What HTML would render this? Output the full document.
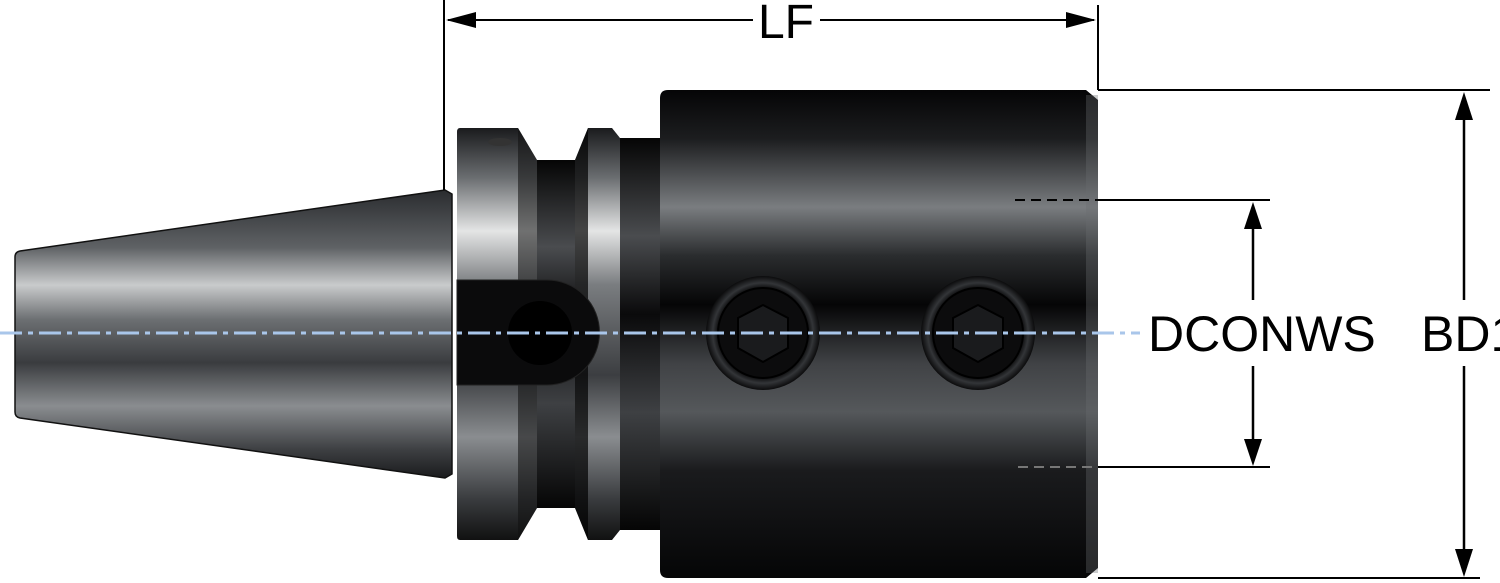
<!DOCTYPE html>
<html><head><meta charset="utf-8"><style>
html,body{margin:0;padding:0;background:#fff;}
svg{display:block;}
text{font-family:"Liberation Sans",sans-serif;fill:#000;}
</style></head><body>
<svg width="1500" height="583" viewBox="0 0 1500 583" xmlns="http://www.w3.org/2000/svg">
<defs>
<linearGradient id="taper" x1="0" y1="0" x2="0" y2="1">
<stop offset="0" stop-color="#2a2c2f"/>
<stop offset="0.2" stop-color="#5f6265"/>
<stop offset="0.33" stop-color="#c9cbcc"/>
<stop offset="0.45" stop-color="#6c6f72"/>
<stop offset="0.6" stop-color="#3a3c3f"/>
<stop offset="0.75" stop-color="#8a8d90"/>
<stop offset="0.9" stop-color="#3e4043"/>
<stop offset="1" stop-color="#1a1b1d"/>
</linearGradient>
<linearGradient id="flange" x1="0" y1="0" x2="0" y2="1">
<stop offset="0" stop-color="#1a1b1d"/>
<stop offset="0.12" stop-color="#6a6d70"/>
<stop offset="0.25" stop-color="#e4e5e5"/>
<stop offset="0.38" stop-color="#7a7d80"/>
<stop offset="0.6" stop-color="#3c3e41"/>
<stop offset="0.75" stop-color="#8a8d90"/>
<stop offset="0.9" stop-color="#3a3c3f"/>
<stop offset="1" stop-color="#111"/>
</linearGradient>
<linearGradient id="dark" x1="0" y1="0" x2="0" y2="1">
<stop offset="0" stop-color="#050505"/>
<stop offset="0.25" stop-color="#4a4c4f"/>
<stop offset="0.45" stop-color="#0a0a0b"/>
<stop offset="0.7" stop-color="#3e4043"/>
<stop offset="1" stop-color="#050505"/>
</linearGradient>
<linearGradient id="body" x1="0" y1="0" x2="0" y2="1">
<stop offset="0" stop-color="#050506"/>
<stop offset="0.1" stop-color="#1c1d1f"/>
<stop offset="0.24" stop-color="#7a7d80"/>
<stop offset="0.34" stop-color="#2a2c2e"/>
<stop offset="0.44" stop-color="#050506"/>
<stop offset="0.56" stop-color="#404245"/>
<stop offset="0.66" stop-color="#55585b"/>
<stop offset="0.78" stop-color="#1a1b1d"/>
<stop offset="1" stop-color="#050506"/>
</linearGradient>
<radialGradient id="ring" cx="0.5" cy="0.5" r="0.5">
<stop offset="0.78" stop-color="#0a0a0b"/>
<stop offset="0.88" stop-color="#333538"/>
<stop offset="1" stop-color="#0b0b0c"/>
</radialGradient>
</defs>

<!-- taper -->
<path d="M20 251 L445 190 L452 194 L452 474 L445 478 L20 418 Q15 417 15 412 L15 257 Q15 252 20 251 Z" fill="url(#taper)" stroke="#111" stroke-width="1.5"/>

<!-- flange 1 -->
<path d="M460 128 L518 128 L537 160 L537 508 L518 540 L460 540 Q457 540 457 536 L457 132 Q457 128 460 128Z" fill="url(#flange)"/>
<path d="M518 128 L537 160 L537 508 L518 540Z" fill="#111" opacity="0.55"/>
<!-- groove -->
<rect x="537" y="160" width="38" height="348" fill="url(#dark)"/>
<!-- flange 2 -->
<path d="M575 160 L588 128 L612 128 L620 138 L620 530 L612 540 L588 540 L575 508Z" fill="url(#flange)"/>
<path d="M575 160 L588 128 L588 540 L575 508Z" fill="#000" opacity="0.7"/>
<rect x="620" y="138" width="40" height="392" fill="url(#dark)"/>
<!-- key slot -->
<path d="M457 280 L547 280 A52 52 0 0 1 547 385 L457 385 Z" fill="#0b0b0c" stroke="#222" stroke-width="1"/>
<circle cx="540" cy="333" r="32" fill="#000"/>
<ellipse cx="500" cy="142" rx="12" ry="4" fill="#333"/>

<!-- body -->
<path d="M668 90 L1086 90 L1098 100 L1098 568 L1086 578 L668 578 Q660 578 660 570 L660 98 Q660 90 668 90Z" fill="url(#body)"/>
<rect x="1086" y="95" width="12" height="478" fill="#6a6d70" opacity="0.35"/>

<!-- screws -->
<g>
<circle cx="763" cy="333" r="57" fill="url(#ring)"/>
<circle cx="763" cy="333" r="45" fill="#0c0c0d" stroke="#000" stroke-width="2"/>
<polygon points="763,305 788,318 788,348 763,362 738,348 738,318" fill="#1a1b1d" stroke="#000" stroke-width="2"/>
<circle cx="978" cy="333" r="57" fill="url(#ring)"/>
<circle cx="978" cy="333" r="45" fill="#0c0c0d" stroke="#000" stroke-width="2"/>
<polygon points="978,305 1003,318 1003,348 978,362 953,348 953,318" fill="#1a1b1d" stroke="#000" stroke-width="2"/>
</g>

<!-- centerline -->
<line x1="0" y1="333" x2="1140" y2="333" stroke="#a9c6ea" stroke-width="3" stroke-dasharray="22,6,5,6"/>

<!-- LF dimension -->
<line x1="444" y1="0" x2="444" y2="190" stroke="#000" stroke-width="2"/>
<line x1="1098" y1="5" x2="1098" y2="90" stroke="#000" stroke-width="2"/>
<line x1="448" y1="20" x2="753" y2="20" stroke="#000" stroke-width="2"/>
<line x1="820" y1="20" x2="1094" y2="20" stroke="#000" stroke-width="2"/>
<polygon points="446,20 476,12 476,28" fill="#000"/>
<polygon points="1096,20 1066,12 1066,28" fill="#000"/>
<text x="786" y="38" font-size="48" text-anchor="middle">LF</text>

<!-- BD1 -->
<line x1="1098" y1="90" x2="1490" y2="90" stroke="#000" stroke-width="2"/>
<line x1="1098" y1="578" x2="1480" y2="578" stroke="#000" stroke-width="2"/>
<line x1="1464" y1="110" x2="1464" y2="300" stroke="#000" stroke-width="2.5"/>
<line x1="1464" y1="366" x2="1464" y2="560" stroke="#000" stroke-width="2.5"/>
<polygon points="1464,92 1455,120 1473,120" fill="#000"/>
<polygon points="1464,577 1455,549 1473,549" fill="#000"/>
<text x="1421" y="351" font-size="50">BD1</text>

<!-- DCONWS -->
<line x1="1015" y1="200" x2="1098" y2="200" stroke="#000" stroke-width="2" stroke-dasharray="10,6"/>
<line x1="1018" y1="467" x2="1098" y2="467" stroke="#777" stroke-width="2" stroke-dasharray="10,6"/>
<line x1="1098" y1="200" x2="1270" y2="200" stroke="#000" stroke-width="2"/>
<line x1="1098" y1="467" x2="1270" y2="467" stroke="#000" stroke-width="2"/>
<line x1="1253" y1="220" x2="1253" y2="300" stroke="#000" stroke-width="2.5"/>
<line x1="1253" y1="366" x2="1253" y2="448" stroke="#000" stroke-width="2.5"/>
<polygon points="1253,202 1244,229 1262,229" fill="#000"/>
<polygon points="1253,466 1244,439 1262,439" fill="#000"/>
<text x="1148" y="351" font-size="50">DCONWS</text>
</svg>
</body></html>
